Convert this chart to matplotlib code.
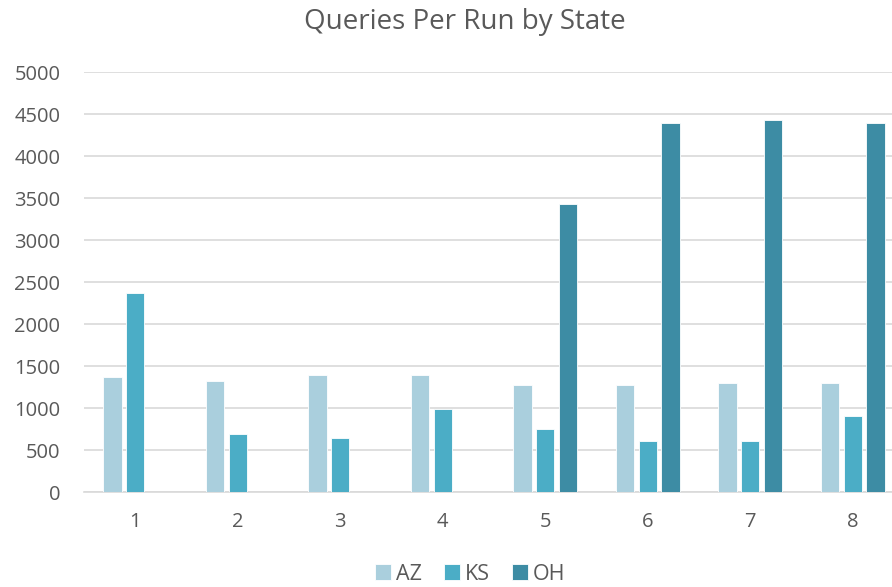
import numpy as np
import matplotlib
matplotlib.use("Agg")
import matplotlib.pyplot as plt

# data
runs = ["1", "2", "3", "4", "5", "6", "7", "8"]
az = [1375, 1325, 1400, 1400, 1275, 1275, 1305, 1305]
ks = [2370, 695, 645, 995, 750, 610, 610, 910]
oh = [0, 0, 0, 0, 3430, 4400, 4435, 4400]
states = ["AZ", "KS", "OH"]
colors = ["#AACFDD", "#4BADC6", "#3D8CA4"]

plt.rcParams['font.family'] = ['Open Sans', 'DejaVu Sans']
grey = "#595959"

fig = plt.figure(figsize=(8.92, 5.87), dpi=100)
# plot area is cut off on the right in the reference
ax = fig.add_axes([84/892, 1 - 492.3/587, 820/892, 420/587])

x = np.arange(len(runs))
step = 0.221
width = 0.178
for i, (vals, c, name) in enumerate(zip([az, ks, oh], colors, states)):
    ax.bar(x + (i - 1) * step, vals, width, color=c, label=name,
           edgecolor="white", linewidth=0.6, zorder=3)

ax.set_xlim(-0.5, len(runs) - 0.5)
ax.set_ylim(0, 5000)
ax.set_yticks(np.arange(0, 5001, 500))
ax.set_xticks(x)
ax.set_xticklabels(runs)
ax.yaxis.grid(True, color="#D9D9D9", linewidth=1.2, zorder=0)
ax.set_axisbelow(True)
for s in ["top", "right", "left"]:
    ax.spines[s].set_visible(False)
ax.spines["bottom"].set_color("#D9D9D9")
ax.spines["bottom"].set_linewidth(1.2)
ax.tick_params(axis="both", length=0, labelsize=14.5, colors=grey)
ax.tick_params(axis="y", pad=17)
ax.tick_params(axis="x", pad=14)

fig.text(0.521, 0.962, "Queries Per Run by State", ha="center", va="center",
         fontsize=20, color=grey)

fig.legend(loc="center", bbox_to_anchor=(0.527, 0.022), ncol=3, frameon=False,
           fontsize=15.5, handlelength=0.75, handleheight=0.75, handletextpad=0.25,
           columnspacing=1.0, labelcolor=grey, borderpad=0.1)

fig.savefig("out.png", dpi=100)
